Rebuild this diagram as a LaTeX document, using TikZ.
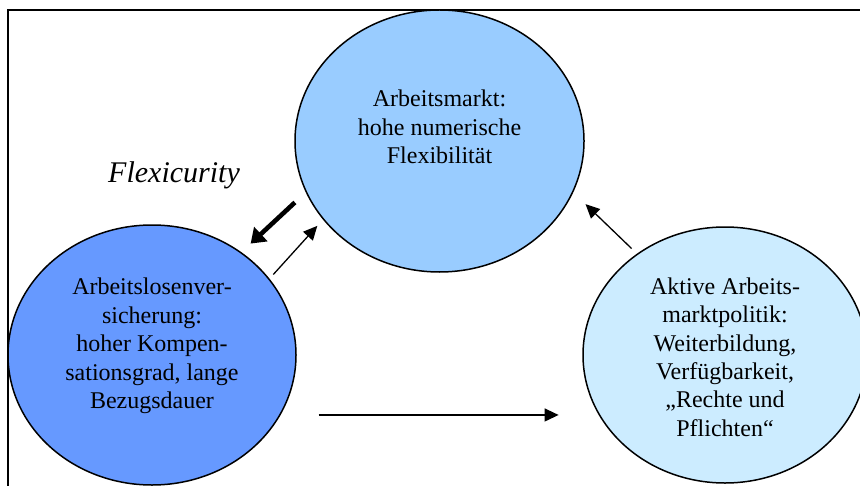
\documentclass[tikz,border=0pt]{standalone}
\usepackage{fontspec}
\setmainfont{Liberation Serif}
\usepackage{tikz}
\usetikzlibrary{shapes.geometric, arrows.meta}
\definecolor{marktblue}{HTML}{99CCFF}
\definecolor{versblue}{HTML}{6699FF}
\definecolor{politikblue}{HTML}{CCECFF}
\tikzstyle{bubble}   = [ellipse, draw=black, line width=0.75pt, inner sep=0pt]
\tikzstyle{txt}      = [align=center, inner sep=0pt, font=\fontsize{12}{14.2}\selectfont]
\tikzstyle{arrow}    = [line width=0.65pt, -{Triangle[length=7pt, width=6.5pt]}]
\tikzstyle{bigarrow} = [line width=2.3pt, -{Triangle[length=7pt, width=9.5pt]}]
\tikzstyle{frame}    = [draw=black, line width=0.65pt]

\begin{document}
\begin{tikzpicture}[x=0.5pt, y=-0.5pt]
    \clip (0,0) rectangle (860,486);
    \draw [frame] (8,10) rectangle (880,520);

    \node (markt)   [bubble, fill=marktblue,   minimum width=144.5pt, minimum height=131pt] at (439.5,141) {};
    \node (vers)    [bubble, fill=versblue,    minimum width=144pt,   minimum height=130pt] at (152,355) {};
    \node (politik) [bubble, fill=politikblue, minimum width=142pt,   minimum height=128pt] at (725,355) {};

    \node (markt-txt)   [txt] at ([yshift=7pt]markt) {Arbeitsmarkt:\\hohe numerische\\Flexibilität};
    \node (vers-txt)    [txt] at ([yshift=4.5pt]vers) {Arbeitslosenver-\\sicherung:\\hoher Kompen-\\sationsgrad, lange\\Bezugsdauer};
    \node (politik-txt) [txt] at ([yshift=-1pt]politik) {Aktive Arbeits-\\marktpolitik:\\Weiterbildung,\\Verfügbarkeit,\\„Rechte und\\Pflichten“};

    \node (flexi) [anchor=base, font=\fontsize{15}{18}\selectfont\itshape] at (174,183) {Flexicurity};

    \draw [bigarrow, shorten <=7.4pt, shorten >=6.3pt] (markt.201.4) -- (vers.49.2);
    \draw [arrow,    shorten <=2.8pt, shorten >=4.2pt] (vers.33.6)   -- (markt.214.9);
    \draw [arrow,    shorten <=3.7pt, shorten >=8.5pt] (politik.131) -- (markt.339.4);
    \draw [arrow,    shorten <=19pt,  shorten >=19.2pt] (vers.335.8) -- (vers.335.8 -| politik.204.6);
\end{tikzpicture}
\end{document}
